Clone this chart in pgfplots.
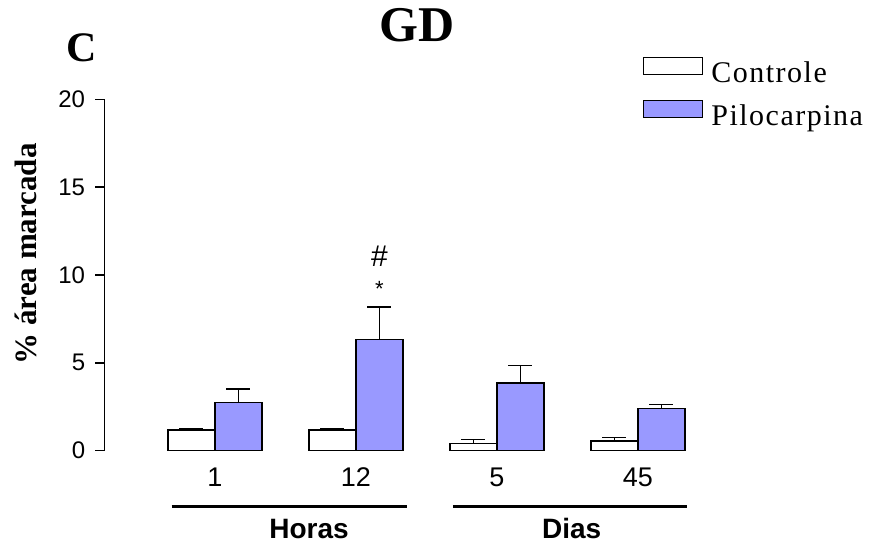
\documentclass[border=0pt]{standalone}
\usepackage{fontspec}
\usepackage{pgfplots}
\pgfplotsset{compat=1.18}
\setmainfont{Liberation Serif}
\newfontfamily\arial{Liberation Sans}
\newfontfamily\legserif[LetterSpace=5]{Liberation Serif}
\definecolor{lav}{RGB}{153,153,255}
\begin{document}
\begin{tikzpicture}
\useasboundingbox (-104.3bp,-94.3bp) rectangle (766.7bp,450.7bp);
\begin{axis}[
  x=141bp, y=17.57bp,
  xmin=0.215, xmax=4.45, ymin=0, ymax=20,
  clip=false,
  axis lines*=left,
  axis line style={-, line width=1.5bp},
  x axis line style={draw=none},
  xtick={1,2,3,4}, xticklabels={1,12,5,45},
  ytick={0,5,10,15,20},
  tick align=outside,
  major tick length=9bp,
  xtick style={draw=none},
  ytick style={line width=1.5bp, black},
  /pgf/number format/assume math mode=true,
  yticklabel style={font=\arial\fontsize{24bp}{28bp}\selectfont, inner sep=0pt, xshift=-10bp},
  xticklabel style={font=\arial\fontsize{27bp}{30bp}\selectfont, inner sep=0pt, anchor=north, yshift=-8bp},
  ylabel={\% área marcada},
  ylabel style={font=\bfseries\fontsize{31bp}{34bp}\selectfont, at={(axis description cs:-0.1311,0.56)}, anchor=center},
  title={GD},
  title style={font=\bfseries\fontsize{50bp}{52bp}\selectfont, at={(axis description cs:0.5244,1.194)}, anchor=center},
  ybar, bar width=47bp,
  legend style={draw=none, fill=none, at={(axis description cs:0.902,1.1204)}, anchor=north west,
    inner sep=0pt, outer sep=0pt, row sep=10bp,
    font=\legserif\fontsize{30bp}{32bp}\selectfont,
    nodes={inner sep=0pt, text height=21bp, text depth=7bp},
    /tikz/every odd column/.append style={column sep=8bp}},
  legend cell align=left,
]
\addplot[draw=black, fill=white, line width=1.5bp, bar shift=-23.5bp,
  legend image code/.code={\draw[draw=black, fill=white, line width=1.5bp] (0bp,1bp) rectangle (59bp,18bp);},
  error bars/.cd, y dir=plus, y explicit, error mark=|,
  error bar style={line width=1.5bp, black},
  error mark options={line width=1.5bp, black, mark size=12bp}]
  coordinates {(1,1.18) +- (0,0.09) (2,1.18) +- (0,0.09) (3,0.42) +- (0,0.23) (4,0.55) +- (0,0.21)};
\addlegendentry{Controle}
\addplot[draw=black, fill=lav, line width=1.5bp, bar shift=23.5bp,
  legend image code/.code={\draw[draw=black, fill=lav, line width=1.5bp] (0bp,1bp) rectangle (59bp,18bp);},
  error bars/.cd, y dir=plus, y explicit, error mark=|,
  error bar style={line width=1.5bp, black},
  error mark options={line width=1.5bp, black, mark size=12bp}]
  coordinates {(1,2.75) +- (0,0.76) (2,6.32) +- (0,1.86) (3,3.85) +- (0,1.01) (4,2.41) +- (0,0.23)};
\addlegendentry{Pilocarpina}
\node[font=\arial\fontsize{30bp}{32bp}\selectfont] at (axis cs:2.1667,11.08) {\#};
\node[font=\arial\fontsize{22bp}{24bp}\selectfont, anchor=center] at (axis cs:2.1667,9.19) {*};
\draw[line width=3bp] (axis cs:0.693,-3.187) -- (axis cs:2.360,-3.187);
\draw[line width=3bp] (axis cs:2.688,-3.187) -- (axis cs:4.351,-3.187);
\node[font=\arial\bfseries\fontsize{28bp}{30bp}\selectfont] at (axis cs:1.667,-4.45) {Horas};
\node[font=\arial\bfseries\fontsize{28bp}{30bp}\selectfont] at (axis cs:3.53,-4.45) {Dias};
\node[font=\bfseries\fontsize{42bp}{44bp}\selectfont] at (axis description cs:-0.0373,1.146) {C};
\end{axis}
\end{tikzpicture}
\end{document}
